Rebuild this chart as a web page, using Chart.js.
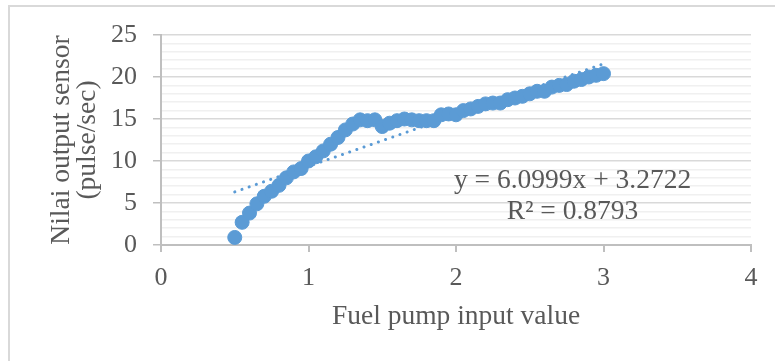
<!DOCTYPE html>
<html>
<head>
<meta charset="utf-8">
<script src="https://cdn.jsdelivr.net/npm/chart.js@4"></script>
<style>
  html, body { margin: 0; padding: 0; background: #fff; }
  #wrap { width: 775px; height: 361px; position: relative; }
</style>
</head>
<body>
<div id="wrap"><canvas id="fuelChart"></canvas></div>
<script>
const inputValues = [0.5, 0.55, 0.6, 0.65, 0.7, 0.75, 0.8, 0.85, 0.9, 0.95,
    1.0, 1.05, 1.1, 1.15, 1.2, 1.25, 1.3, 1.35, 1.4, 1.45,
    1.5, 1.55, 1.6, 1.65, 1.7, 1.75, 1.8, 1.85, 1.9, 1.95,
    2.0, 2.05, 2.1, 2.15, 2.2, 2.25, 2.3, 2.35, 2.4, 2.45,
    2.5, 2.55, 2.6, 2.65, 2.7, 2.75, 2.8, 2.85, 2.9, 2.95, 3.0];
const sensorValues = [0.9, 2.7, 3.8, 4.9, 5.8, 6.4, 7.1, 8.0, 8.7, 9.1,
    10.0, 10.5, 11.2, 12.0, 12.8, 13.7, 14.4, 14.9, 14.8, 14.9,
    14.1, 14.5, 14.8, 15.0, 14.9, 14.8, 14.8, 14.8, 15.5, 15.6,
    15.5, 16.0, 16.2, 16.5, 16.8, 16.9, 16.9, 17.3, 17.5, 17.7,
    18.0, 18.3, 18.3, 18.8, 19.0, 19.1, 19.5, 19.7, 20.0, 20.2, 20.4];
const trendX = [0.5, 3.0];
const trendY = [6.32, 21.57];
const xTicks = [0, 1, 2, 3, 4];
const yTicks = [0, 5, 10, 15, 20, 25];
const equationLines = ['y = 6.0999x + 3.2722', 'R² = 0.8793'];

const blue = '#5b9bd5';
const textGray = '#595959';
const axisGray = '#bfbfbf';
const serif = "'Liberation Serif', 'Times New Roman', serif";

// frame line on top + left, and the trendline label
const extras = {
    id: 'extras',
    beforeDraw(chart) {
        const c = chart.ctx;
        c.save();
        c.strokeStyle = '#d9d9d9';
        c.lineWidth = 2;
        c.beginPath();
        c.moveTo(9, 400);
        c.lineTo(9, 6);
        c.lineTo(800, 6);
        c.stroke();
        c.restore();
    },
    afterDraw(chart) {
        const c = chart.ctx;
        const x = chart.scales.x, y = chart.scales.y;
        c.save();
        c.fillStyle = textGray;
        c.font = '27.5px ' + serif;
        c.textAlign = 'center';
        c.textBaseline = 'middle';
        c.fillText(equationLines[0], x.getPixelForValue(2.79), y.getPixelForValue(7.6));
        c.fillText(equationLines[1], x.getPixelForValue(2.79), y.getPixelForValue(4.0));
        c.restore();
    }
};

new Chart(document.getElementById('fuelChart'), {
    type: 'scatter',
    data: {
        datasets: [{
            data: inputValues.map((v, i) => ({ x: v, y: sensorValues[i] })),
            backgroundColor: blue,
            borderColor: blue,
            pointRadius: 7,
            pointHoverRadius: 7,
            order: 0
        }, {
            type: 'line',
            data: trendX.map((v, i) => ({ x: v, y: trendY[i] })),
            borderColor: blue,
            borderWidth: 3,
            borderDash: [0.1, 7.5],
            borderCapStyle: 'round',
            pointRadius: 0,
            fill: false,
            order: 1
        }]
    },
    options: {
        responsive: true,
        maintainAspectRatio: false,
        animation: false,
        layout: { padding: { top: 35, right: 24, left: 0, bottom: 0 } },
        plugins: { legend: { display: false }, tooltip: { enabled: false } },
        scales: {
            x: {
                type: 'linear',
                min: 0, max: 4,
                afterBuildTicks: s => { s.ticks = xTicks.map(v => ({ value: v })); },
                afterFit: s => { s.height = 116; },
                grid: { drawOnChartArea: false, drawTicks: true, tickLength: 7, color: axisGray, lineWidth: 2 },
                border: { color: axisGray, width: 2 },
                ticks: { color: textGray, font: { family: serif, size: 26 }, padding: 11 },
                title: {
                    display: true,
                    text: 'Fuel pump input value',
                    color: textGray,
                    font: { family: serif, size: 27.5 },
                    padding: { top: 0, bottom: 28 }
                }
            },
            y: {
                min: 0, max: 25,
                ticks: {
                    stepSize: 1,
                    autoSkip: false,
                    color: textGray,
                    font: { family: serif, size: 26 },
                    padding: 16,
                    callback: v => yTicks.includes(v) ? v : ''
                },
                afterFit: s => { s.width = 161; },
                grid: {
                    tickLength: 8,
                    lineWidth: 1.5,
                    color: ctx => ctx.tick && yTicks.includes(ctx.tick.value) ? '#d9d9d9' : '#f0f0f0',
                    tickColor: ctx => ctx.tick && yTicks.includes(ctx.tick.value) ? axisGray : 'rgba(0,0,0,0)'
                },
                border: { color: axisGray, width: 2 },
                title: {
                    display: true,
                    text: ['Nilai output sensor', '(pulse/sec)'],
                    color: textGray,
                    font: { family: serif, size: 27.5, lineHeight: 0.95 },
                    padding: { top: 49, bottom: 0 }
                }
            }
        }
    },
    plugins: [extras]
});
</script>
</body>
</html>
